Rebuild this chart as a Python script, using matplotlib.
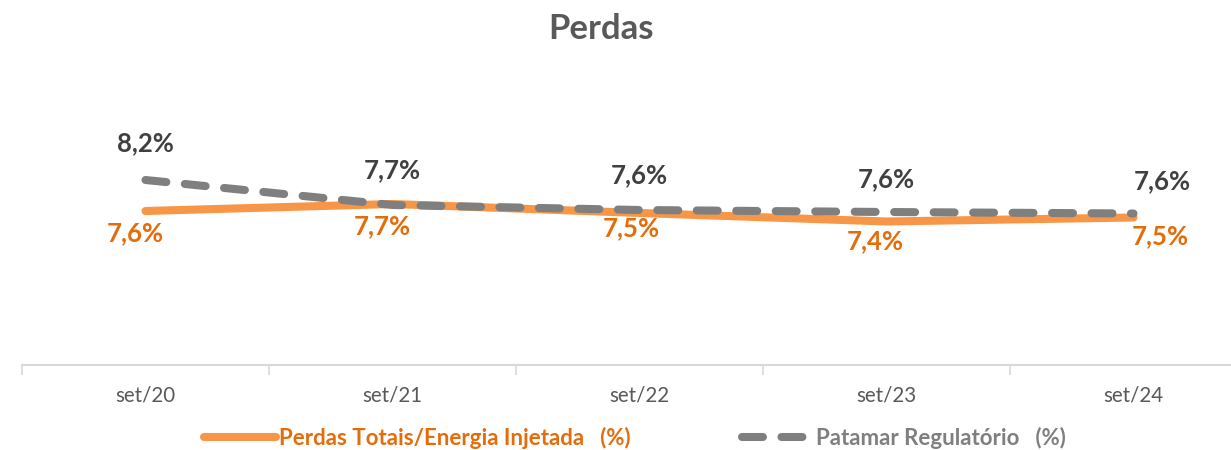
import matplotlib
matplotlib.use("Agg")
import matplotlib.pyplot as plt
import numpy as np

# ============================================================
# DATA
# ============================================================
categories = ["set/20", "set/21", "set/22", "set/23", "set/24"]
perdas_totais = [7.58, 7.72, 7.54, 7.37, 7.45]
perdas_labels = ["7,6%", "7,7%", "7,5%", "7,4%", "7,5%"]
patamar = [8.20, 7.70, 7.60, 7.56, 7.53]
patamar_labels = ["8,2%", "7,7%", "7,6%", "7,6%", "7,6%"]

ORANGE = "#F79646"
ORANGE_TXT = "#E46C0A"
GRAY = "#7F7F7F"
GRAY_TXT = "#404040"
AXIS_GRAY = "#595959"

plt.rcParams["font.family"] = ["Lato", "DejaVu Sans"]

fig = plt.figure(figsize=(12.31, 4.5), dpi=100)
ax = fig.add_axes([22 / 1231, 1 - 365 / 450, 1235 / 1231, 285 / 450])

x = np.arange(len(categories))

line_o, = ax.plot(x, perdas_totais, color=ORANGE, lw=5.8, solid_capstyle="round",
                  label="Perdas Totais/Energia Injetada   (%)", zorder=2)
line_g, = ax.plot(x, patamar, color=GRAY, lw=5.8, dash_capstyle="round",
                  dashes=(2.6, 2.3), label="Patamar Regulatório   (%)", zorder=3)

# data labels (offsets in pixels, like excel placement)
g_off = [(0, 37), (0, 35), (0, 35), (0, 33), (29, 32)]
o_off = [(-10, -22), (-10, -22), (-8, -15), (-11, -20), (27, -19)]
for i in range(len(categories)):
    ax.annotate(patamar_labels[i], (x[i], patamar[i]), xytext=g_off[i],
                textcoords="offset pixels", ha="center", va="center",
                fontsize=18.5, fontweight="bold", color=GRAY_TXT)
    ax.annotate(perdas_labels[i], (x[i], perdas_totais[i]), xytext=o_off[i],
                textcoords="offset pixels", ha="center", va="center",
                fontsize=18.5, fontweight="bold", color=ORANGE_TXT)

ax.set_xlim(-0.5, 4.5)
ax.set_ylim(4.5, 10.2)

for s in ["top", "right", "left"]:
    ax.spines[s].set_visible(False)
ax.spines["bottom"].set_color("#D9D9D9")
ax.spines["bottom"].set_linewidth(1.5)
ax.set_yticks([])

ax.set_xticks(np.arange(-0.5, 5.0, 1.0))
ax.set_xticklabels([])
ax.tick_params(axis="x", which="major", length=7, width=1.2, color="#D9D9D9")
ax.set_xticks(x, minor=True)
ax.set_xticklabels(categories, minor=True)
ax.tick_params(axis="x", which="minor", length=0, pad=15, labelsize=14.8,
               labelcolor=AXIS_GRAY)

fig.text(0.488, 0.935, "Perdas", ha="center", va="center", fontsize=25,
         fontweight="bold", color=AXIS_GRAY)

leg = fig.legend(handles=[line_o, line_g], loc="center", ncol=2,
                 bbox_to_anchor=(0.516, 0.027), frameon=False, fontsize=16,
                 handlelength=3.2, handletextpad=0.15, columnspacing=5.0)
for t, c in zip(leg.get_texts(), [ORANGE_TXT, GRAY]):
    t.set_color(c)
    t.set_fontweight("bold")

fig.savefig("out.png", dpi=100)
